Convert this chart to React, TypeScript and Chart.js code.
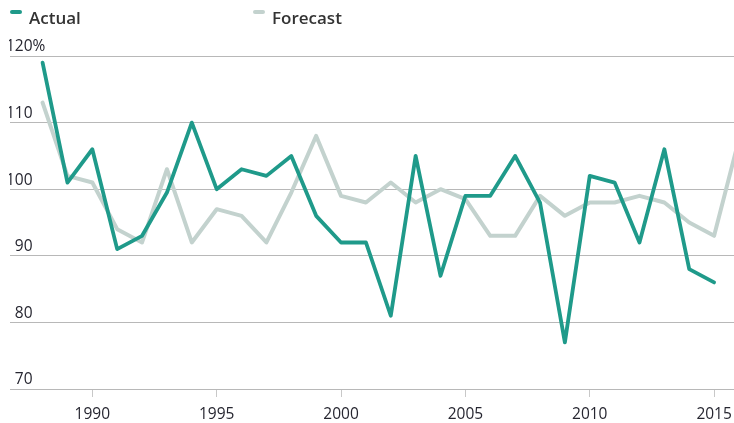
import React, { useEffect, useRef } from "react";
import { Chart, registerables } from "chart.js";

Chart.register(...registerables);

// ---- data ----
const years = [
  1988, 1989, 1990, 1991, 1992, 1993, 1994, 1995, 1996, 1997,
  1998, 1999, 2000, 2001, 2002, 2003, 2004, 2005, 2006, 2007,
  2008, 2009, 2010, 2011, 2012, 2013, 2014, 2015, 2016,
];
const actual = [
  119, 101, 106, 91, 93, 99.5, 110, 100, 103, 102,
  105, 96, 92, 92, 81, 105, 87, 99, 99, 105,
  98, 77, 102, 101, 92, 106, 88, 86,
];
const forecast = [
  113, 102, 101, 94, 92, 103, 92, 97, 96, 92,
  99.5, 108, 99, 98, 101, 98, 100, 98.5, 93, 93,
  99, 96, 98, 98, 99, 98, 95, 93, 107.5,
];
const seriesLabels = ["Actual", "Forecast"];
const xTicks = [1990, 1995, 2000, 2005, 2010, 2015];
const yTicks = [70, 80, 90, 100, 110, 120];
const X_MIN = 1986.69;
const X_MAX = 2015.8;
const Y_MIN = 70;
const Y_MAX = 120;

// ---- styles ----
const TEAL = "#1f9a8a";
const GREY = "#c3d2ce";
const TEXT = "#262630";
const FONT = "'Open Sans', 'Noto Sans', sans-serif";

const toPoints = (vals: number[]) => vals.map((v, i) => ({ x: years[i], y: v }));

const legendPlugin = {
  id: "topLegend",
  afterDraw(chart: any) {
    const ctx = chart.ctx as CanvasRenderingContext2D;
    const xs = [1, 244];
    ctx.save();
    chart.data.datasets.forEach((ds: any, i: number) => {
      const x = xs[i];
      ctx.fillStyle = ds.borderColor;
      ctx.beginPath();
      if ((ctx as any).roundRect) {
        (ctx as any).roundRect(x, 10, 12, 4, 2);
      } else {
        ctx.rect(x, 10, 12, 4);
      }
      ctx.fill();
      ctx.font = `600 17px ${FONT}`;
      ctx.fillStyle = "#333333";
      ctx.textBaseline = "alphabetic";
      ctx.textAlign = "left";
      ctx.fillText(ds.label, x + 19, 24);
    });
    ctx.restore();
  },
};

export default function App() {
  const ref = useRef<HTMLCanvasElement | null>(null);

  useEffect(() => {
    if (!ref.current) return;
    const chart = new Chart(ref.current, {
      type: "line",
      data: {
        datasets: [
          {
            label: seriesLabels[0],
            data: toPoints(actual),
            borderColor: TEAL,
            backgroundColor: TEAL,
            borderWidth: 3.8,
            pointRadius: 0,
            tension: 0,
          },
          {
            label: seriesLabels[1],
            data: toPoints(forecast),
            borderColor: GREY,
            backgroundColor: GREY,
            borderWidth: 4,
            pointRadius: 0,
            tension: 0,
          },
        ],
      },
      options: {
        animation: false,
        responsive: true,
        maintainAspectRatio: false,
        layout: { padding: { left: 1, right: 0, top: 56, bottom: 0 } },
        elements: {
          line: { borderJoinStyle: "round", borderCapStyle: "round" },
          point: { radius: 0 },
        },
        plugins: {
          legend: { display: false },
          tooltip: { enabled: false },
        },
        scales: {
          x: {
            type: "linear",
            min: X_MIN,
            max: X_MAX,
            border: { display: false },
            grid: {
              drawOnChartArea: false,
              drawTicks: true,
              tickLength: 8,
              color: "#c8c8c8",
              lineWidth: 1,
            },
            ticks: {
              padding: 8,
              color: TEXT,
              font: { family: FONT, size: 15.5 },
              maxRotation: 0,
              autoSkip: false,
              callback: (v: any) => String(v),
            },
            afterBuildTicks: (axis: any) => {
              axis.ticks = xTicks.map((value) => ({ value }));
            },
            afterFit: (s: any) => {
              s.height = 34;
              s.paddingLeft = 0;
              s.paddingRight = 0;
            },
          },
          y: {
            type: "linear",
            min: Y_MIN,
            max: Y_MAX,
            border: { display: false },
            grid: {
              drawTicks: false,
              color: "#b8b8b8",
              lineWidth: 1,
            },
            ticks: {
              mirror: true,
              padding: -4,
              labelOffset: -9,
              color: TEXT,
              font: { family: FONT, size: 15.5 },
              callback: (v: any) =>
                v === Y_MAX ? `${v}%` : v < 100 ? `\u2007${v}` : String(v),
            },
            afterBuildTicks: (axis: any) => {
              axis.ticks = yTicks.map((value) => ({ value }));
            },
            afterFit: (s: any) => {
              s.width = 0;
              s.paddingTop = 0;
              s.paddingBottom = 0;
            },
          },
        },
      },
      plugins: [legendPlugin],
    });
    return () => chart.destroy();
  }, []);

  return (
    <div
      style={{
        position: "absolute",
        left: 9,
        top: 0,
        width: 725,
        height: 423,
      }}
    >
      <canvas ref={ref} />
    </div>
  );
}
